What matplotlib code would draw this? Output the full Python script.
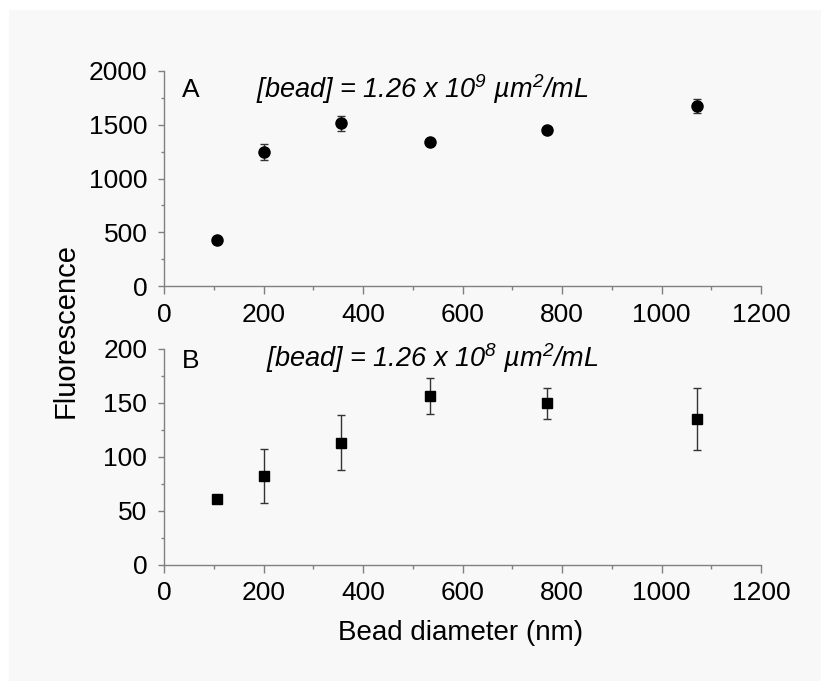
import matplotlib
matplotlib.use("Agg")
import matplotlib.pyplot as plt
from matplotlib.ticker import MultipleLocator
from matplotlib.patches import Rectangle

# ---- data ----
diam = [107, 200, 355, 535, 770, 1072]
fluor_A = [432, 1249, 1512, 1341, 1447, 1672]
err_A = [20, 74, 71, 20, 25, 66]
fluor_B = [60.4, 82.3, 113, 156.3, 149.5, 135.3]
err_B = [2, 24.8, 25.7, 16.6, 14.7, 28.8]
xticks = [0, 200, 400, 600, 800, 1000, 1200]
yticks_A = [0, 500, 1000, 1500, 2000]
yticks_B = [0, 50, 100, 150, 200]
title_A = r"[bead] = 1.26 x 10$^{9}$ µm$^{2}$/mL"
title_B = r"[bead] = 1.26 x 10$^{8}$ µm$^{2}$/mL"

plt.rcParams['font.family'] = ['Liberation Sans', 'DejaVu Sans']
plt.rcParams['mathtext.fontset'] = 'custom'
plt.rcParams['mathtext.rm'] = 'Liberation Sans:italic'
plt.rcParams['mathtext.it'] = 'Liberation Sans:italic'

W, H = 821, 681
fig = plt.figure(figsize=(W / 100, H / 100), dpi=100, facecolor='white')
fig.patches.append(Rectangle((9 / W, 0), 1 - 9 / W, 1 - 10 / H, transform=fig.transFigure,
                             facecolor='#f8f8f8', edgecolor='none', zorder=-10))


def px(x, y):
    return x / W, 1 - y / H


def make_axes(top, bottom):
    l, r = 164, 761
    ax = fig.add_axes([l / W, 1 - bottom / H, (r - l) / W, (bottom - top) / H])
    ax.patch.set_alpha(0)
    for s in ['top', 'right']:
        ax.spines[s].set_visible(False)
    for s in ['left', 'bottom']:
        ax.spines[s].set_color('#808080')
        ax.spines[s].set_linewidth(1)
    ax.tick_params(which='major', direction='out', width=1, color='#808080',
                   labelsize=19, labelcolor='black')
    ax.tick_params(axis='x', which='major', length=5.5, pad=6.5)
    ax.tick_params(axis='y', which='major', length=4.5, pad=7.5)
    ax.tick_params(axis='x', which='minor', direction='out', length=3, width=1, color='#808080')
    ax.tick_params(axis='y', which='minor', direction='out', length=2.5, width=1, color='#808080')
    ax.set_xlim(0, 1200)
    ax.set_xticks(xticks)
    ax.xaxis.set_minor_locator(MultipleLocator(100))
    return ax


axA = make_axes(70.7, 286.3)
axA.set_ylim(0, 2000)
axA.set_yticks(yticks_A)
axA.yaxis.set_minor_locator(MultipleLocator(250))
axA.errorbar(diam, fluor_A, yerr=err_A, fmt='o', color='black', markersize=8,
             ecolor='#333333', elinewidth=1, capsize=3, capthick=1, clip_on=False)

axB = make_axes(349, 564.5)
axB.set_ylim(0, 200)
axB.set_yticks(yticks_B)
axB.yaxis.set_minor_locator(MultipleLocator(25))
axB.errorbar(diam, fluor_B, yerr=err_B, fmt='s', color='black', markersize=6.5,
             ecolor='#333333', elinewidth=1, capsize=3, capthick=1, clip_on=False)

fig.text(*px(182, 90), 'A', fontsize=19, ha='left', va='center')
fig.text(*px(256, 89), title_A, fontsize=19.5, style='italic', ha='left', va='center')
fig.text(*px(182, 361), 'B', fontsize=19, ha='left', va='center')
fig.text(*px(266, 358), title_B, fontsize=19.5, style='italic', ha='left', va='center')

fig.text(*px(66, 331), 'Fluorescence', fontsize=21, rotation=90, ha='center', va='center')
fig.text(*px(461, 633), 'Bead diameter (nm)', fontsize=20, ha='center', va='center')

fig.savefig('out.png', dpi=100, facecolor='white')
